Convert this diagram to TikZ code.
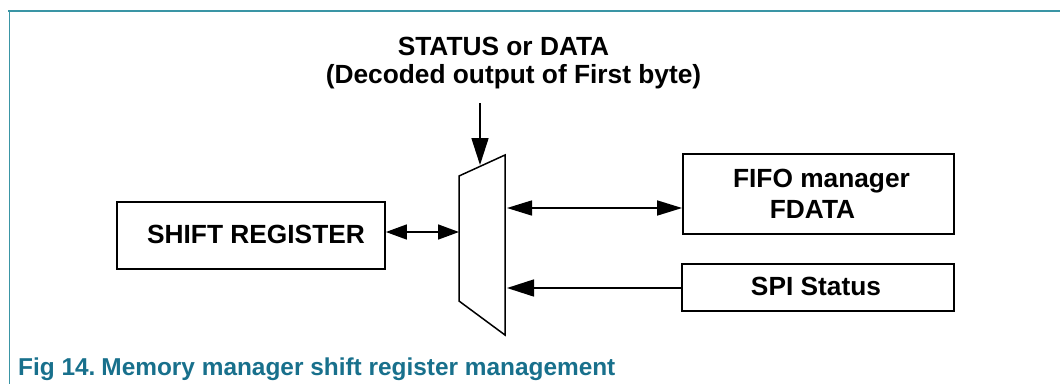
\documentclass[tikz,border=0pt]{standalone}
\usepackage{fontspec}
\setmainfont{Liberation Sans}
\usetikzlibrary{arrows.meta}
\definecolor{frameteal}{RGB}{58,149,165}
\definecolor{captealc}{RGB}{24,112,140}
\tikzset{
  blk/.style={draw=black, line width=1.8pt, inner sep=0pt},
  lbl/.style={font=\fontsize{26.3}{30}\selectfont\bfseries, inner sep=0pt, anchor=base},
  tip/.style={Triangle[length=26pt,width=16pt]},
  conn/.style={line width=1.6pt, arrows={-{Triangle[length=27pt,width=17pt]}}},
  bconn/.style={line width=1.6pt, arrows={{Triangle[length=#1,width=15pt]}-{Triangle[length=#1,width=15pt]}}},
}
\begin{document}
\begin{tikzpicture}[x=1pt,y=-1pt]
\useasboundingbox (0,0) rectangle (1060,384);
% frame
\draw[frameteal, line width=2.5pt] (8,11) -- (1060,11);
\draw[frameteal, line width=1pt] (9,11) -- (9,384);
% title
\node[lbl] (t1) at (503.5,55) {STATUS or DATA};
\node[lbl] (t2) at (513.5,83) {(Decoded output of First byte)};
% mux
\draw[line width=1.5pt] (459,176) -- (505,155) -- (505,335) -- (459,301) -- cycle;
\coordinate (muxTop) at (480,165);
\coordinate (muxIn) at (480,103);
\coordinate (muxL) at (459,232);
\coordinate (muxR1) at (507,208);
\coordinate (muxR2) at (507,288);
% boxes
\node[blk, minimum width=268pt, minimum height=67pt] (sr) at (251,235.5) {};
\node[blk, minimum width=271pt, minimum height=80pt] (fifo) at (818.5,194) {};
\node[blk, minimum width=272pt, minimum height=47pt] (spi) at (818,287.5) {};
\node[lbl] (srt) at (256,243) {SHIFT REGISTER};
\node[lbl] (fifot1) at (821.5,187) {FIFO manager};
\node[lbl] (fifot2) at (812.5,218) {FDATA};
\node[lbl] (spit) at (816,295) {SPI Status};
% connectors
\draw[conn] (muxIn) -- (muxTop);
\draw[bconn=21pt] (sr.east |- muxL) -- (muxL);
\draw[bconn=25pt] (muxR1) -- (fifo.west |- muxR1);
\draw[conn] (spi.west |- muxR2) -- (muxR2);
% caption
\node[anchor=base west, inner sep=0pt, text=captealc, font=\fontsize{24.4}{28}\selectfont\bfseries] (cap) at (18,375) {Fig 14.\hspace{6pt}Memory manager shift register management};
\end{tikzpicture}
\end{document}
